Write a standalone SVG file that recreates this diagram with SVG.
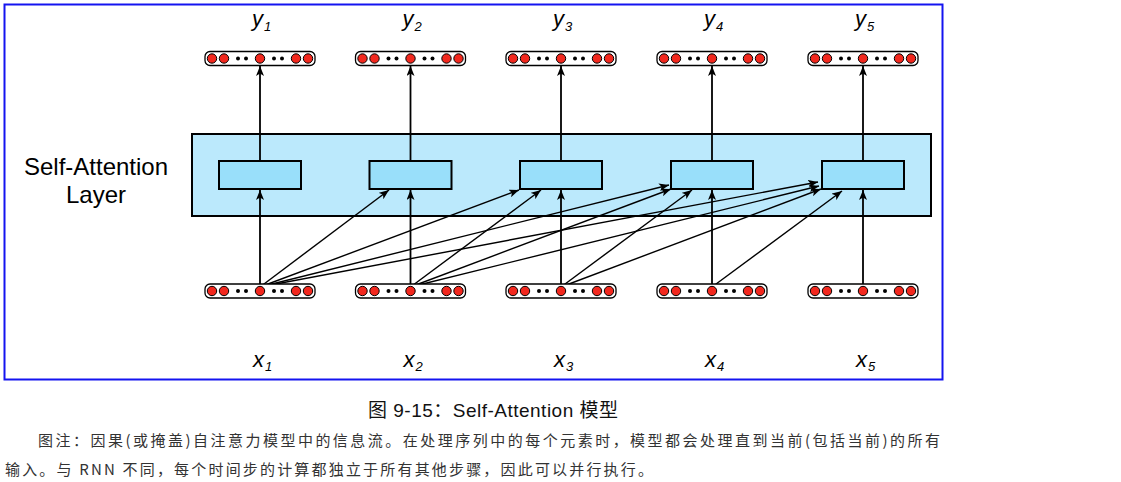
<svg xmlns="http://www.w3.org/2000/svg" width="1121" height="482" viewBox="0 0 1121 482">
<style>
.vec{fill:#fff;stroke:#000;stroke-width:1.3}
.red{fill:#f2281e;stroke:#000;stroke-width:1}
.dot{fill:#000}
.inner{fill:#99dffa;stroke:#000;stroke-width:2}
.lbl{font-family:"Liberation Sans",Arial,sans-serif;font-style:italic;fill:#000}
.con line{stroke:#000;fill:none}
.v{stroke-width:1.8}
.d{stroke-width:1.4}
.cap{font-family:"Liberation Sans","Noto Sans CJK SC",sans-serif;fill:#111}
.note{font-family:"Noto Sans CJK SC",sans-serif;font-size:15px;fill:#333}
</style>
<defs>
<marker id="ah" viewBox="0 0 10 8" refX="10" refY="4" markerWidth="10" markerHeight="8" orient="auto" markerUnits="userSpaceOnUse">
<path d="M0,0 L10,4 L0,8 L2.5,4 z" fill="#000"/>
</marker>
<g id="vecshape">
<rect class="vec" x="-55" y="-7" width="110" height="14" rx="5"/>
<circle class="red" cx="-48" cy="0" r="4.7"/>
<circle class="red" cx="-36" cy="0" r="4.7"/>
<circle class="dot" cx="-22" cy="0" r="2"/>
<circle class="dot" cx="-14" cy="0" r="2"/>
<circle class="red" cx="0" cy="0" r="4.7"/>
<circle class="dot" cx="14" cy="0" r="2"/>
<circle class="dot" cx="22" cy="0" r="2"/>
<circle class="red" cx="36" cy="0" r="4.7"/>
<circle class="red" cx="48" cy="0" r="4.7"/>
</g>
</defs>
<rect x="0" y="0" width="1121" height="482" fill="#fff"/>
<rect id="frame" x="4.5" y="4.5" width="938" height="375" fill="none" stroke="#1414f0" stroke-width="2"/>

<g id="layer">
<rect x="192" y="134" width="739" height="82" fill="#bbe9fc" stroke="#000" stroke-width="2"/>
<text x="96" y="175" text-anchor="middle" font-family="'Liberation Sans',Arial,sans-serif" font-size="24" fill="#000">Self-Attention</text>
<text x="96" y="203" text-anchor="middle" font-family="'Liberation Sans',Arial,sans-serif" font-size="24" fill="#000">Layer</text>
</g>

<g id="att1"><rect class="inner" x="219" y="161" width="82" height="28"/></g>
<g id="att2"><rect class="inner" x="369.5" y="161" width="82" height="28"/></g>
<g id="att3"><rect class="inner" x="520" y="161" width="82" height="28"/></g>
<g id="att4"><rect class="inner" x="671" y="161" width="82" height="28"/></g>
<g id="att5"><rect class="inner" x="822" y="161" width="82" height="28"/></g>

<g id="connectors" class="con">
<line class="v" x1="260" y1="161" x2="260" y2="66" marker-end="url(#ah)"/>
<line class="v" x1="410.5" y1="161" x2="410.5" y2="66" marker-end="url(#ah)"/>
<line class="v" x1="561" y1="161" x2="561" y2="66" marker-end="url(#ah)"/>
<line class="v" x1="712" y1="161" x2="712" y2="66" marker-end="url(#ah)"/>
<line class="v" x1="863" y1="161" x2="863" y2="66" marker-end="url(#ah)"/>
<line class="v" x1="260" y1="287" x2="260" y2="190" marker-end="url(#ah)"/>
<line class="v" x1="410.5" y1="287" x2="410.5" y2="190" marker-end="url(#ah)"/>
<line class="v" x1="561" y1="287" x2="561" y2="190" marker-end="url(#ah)"/>
<line class="v" x1="712" y1="287" x2="712" y2="190" marker-end="url(#ah)"/>
<line class="v" x1="863" y1="287" x2="863" y2="190" marker-end="url(#ah)"/>
<line class="d" x1="260" y1="287" x2="389" y2="190" marker-end="url(#ah)"/>
<line class="d" x1="260" y1="287" x2="519" y2="190" marker-end="url(#ah)"/>
<line class="d" x1="410.5" y1="287" x2="541" y2="190" marker-end="url(#ah)"/>
<line class="d" x1="260" y1="287" x2="669" y2="185" marker-end="url(#ah)"/>
<line class="d" x1="410.5" y1="287" x2="671" y2="189" marker-end="url(#ah)"/>
<line class="d" x1="561" y1="287" x2="692" y2="190" marker-end="url(#ah)"/>
<line class="d" x1="260" y1="287" x2="818" y2="182" marker-end="url(#ah)"/>
<line class="d" x1="410.5" y1="287" x2="819" y2="186" marker-end="url(#ah)"/>
<line class="d" x1="561" y1="287" x2="821" y2="189" marker-end="url(#ah)"/>
<line class="d" x1="712" y1="287" x2="842" y2="191" marker-end="url(#ah)"/>
</g>

<g id="y1"><use href="#vecshape" x="260" y="58.5"/><text class="lbl" x="252" y="26" font-size="22">y<tspan font-size="13" dx="1" dy="5">1</tspan></text></g>
<g id="y2"><use href="#vecshape" x="410.5" y="58.5"/><text class="lbl" x="402.5" y="26" font-size="22">y<tspan font-size="13" dx="1" dy="5">2</tspan></text></g>
<g id="y3"><use href="#vecshape" x="561" y="58.5"/><text class="lbl" x="553" y="26" font-size="22">y<tspan font-size="13" dx="1" dy="5">3</tspan></text></g>
<g id="y4"><use href="#vecshape" x="712" y="58.5"/><text class="lbl" x="704" y="26" font-size="22">y<tspan font-size="13" dx="1" dy="5">4</tspan></text></g>
<g id="y5"><use href="#vecshape" x="863" y="58.5"/><text class="lbl" x="855" y="26" font-size="22">y<tspan font-size="13" dx="1" dy="5">5</tspan></text></g>

<g id="x1"><use href="#vecshape" x="260" y="291"/><text class="lbl" x="253" y="367" font-size="22">x<tspan font-size="13" dx="1" dy="4">1</tspan></text></g>
<g id="x2"><use href="#vecshape" x="410.5" y="291"/><text class="lbl" x="403.5" y="367" font-size="22">x<tspan font-size="13" dx="1" dy="4">2</tspan></text></g>
<g id="x3"><use href="#vecshape" x="561" y="291"/><text class="lbl" x="554" y="367" font-size="22">x<tspan font-size="13" dx="1" dy="4">3</tspan></text></g>
<g id="x4"><use href="#vecshape" x="712" y="291"/><text class="lbl" x="705" y="367" font-size="22">x<tspan font-size="13" dx="1" dy="4">4</tspan></text></g>
<g id="x5"><use href="#vecshape" x="863" y="291"/><text class="lbl" x="856" y="367" font-size="22">x<tspan font-size="13" dx="1" dy="4">5</tspan></text></g>

<g id="caption">
<text class="cap" x="368" y="417" font-size="19" textLength="250" lengthAdjust="spacing">图 9-15：Self-Attention 模型</text>
<text class="note" x="38" y="446" textLength="902" lengthAdjust="spacing">图注：因果(或掩盖)自注意力模型中的信息流。在处理序列中的每个元素时，模型都会处理直到当前(包括当前)的所有</text>
<text class="note" x="5" y="475" textLength="648" lengthAdjust="spacing">输入。与 RNN 不同，每个时间步的计算都独立于所有其他步骤，因此可以并行执行。</text>
</g>
</svg>
